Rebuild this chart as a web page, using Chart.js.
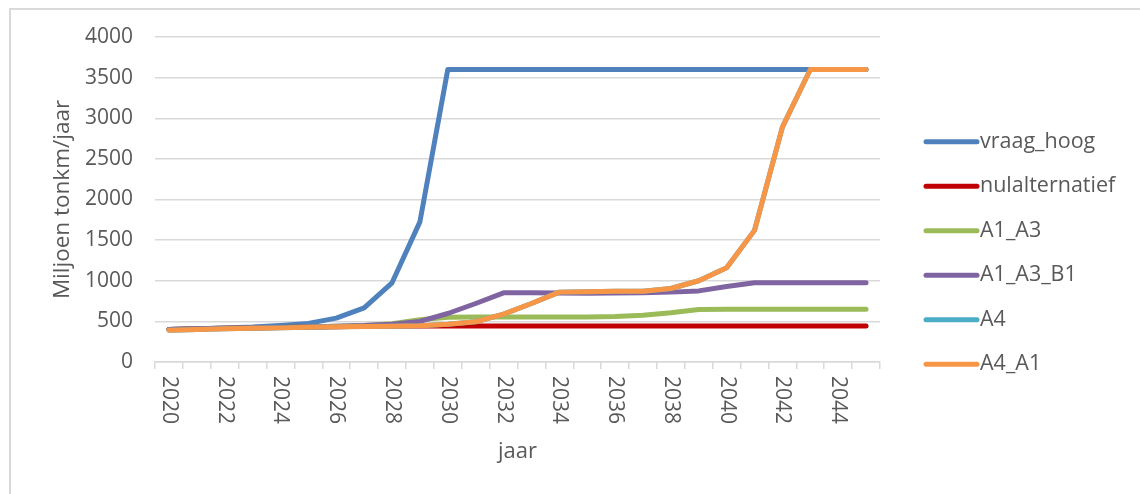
<!DOCTYPE html>
<html>
<head>
<meta charset="utf-8">
<script src="https://cdn.jsdelivr.net/npm/chart.js@4/dist/chart.umd.min.js"></script>
<style>
  html, body { margin: 0; padding: 0; background: #ffffff; }
  #wrap { position: relative; width: 1140px; height: 494px; overflow: hidden; }
  #frame { position: absolute; left: 9px; top: 8px; right: -10px; bottom: -10px;
           border-top: 2px solid #d9d9d9; border-left: 2px solid #d9d9d9; pointer-events: none; }
  canvas { position: absolute; left: 0; top: 0; }
</style>
</head>
<body>
<div id="wrap">
  <canvas id="chart" width="1140" height="494"></canvas>
  <div id="frame"></div>
</div>
<script>
// Years on the category axis
const years = ['2020','2021','2022','2023','2024','2025','2026','2027','2028','2029',
               '2030','2031','2032','2033','2034','2035','2036','2037','2038','2039',
               '2040','2041','2042','2043','2044','2045'];

// Transport volume per scenario (miljoen tonkm per jaar)
const vraagHoog      = [400, 410, 420, 430, 450, 475, 540, 665, 975, 1725, 3600, 3600, 3600, 3600, 3600, 3600, 3600, 3600, 3600, 3600, 3600, 3600, 3600, 3600, 3600, 3600];
const nulalternatief = [400, 408, 415, 420, 425, 430, 435, 440, 442, 442, 442, 442, 442, 442, 442, 442, 442, 442, 442, 442, 442, 442, 442, 442, 442, 442];
const a1A3           = [400, 408, 415, 420, 425, 432, 440, 448, 470, 520, 550, 555, 555, 555, 555, 555, 560, 575, 605, 645, 650, 650, 650, 650, 650, 650];
const a1A3B1         = [400, 408, 415, 420, 425, 432, 440, 448, 465, 500, 597, 720, 851, 851, 848, 845, 848, 852, 860, 875, 930, 975, 975, 975, 975, 975];
const a4             = [392, 400, 408, 415, 420, 428, 433, 438, 440, 445, 465, 495, 590, 720, 860, 865, 870, 870, 905, 1000, 1160, 1620, 2890, 3600, 3600, 3600];
const a4A1           = [392, 400, 408, 415, 420, 428, 433, 438, 440, 445, 465, 495, 590, 720, 860, 865, 870, 870, 905, 1000, 1160, 1620, 2890, 3600, 3600, 3600];

// Value axis ticks
const yTicks = [0, 500, 1000, 1500, 2000, 2500, 3000, 3500, 4000];

const seriesNames  = ['vraag_hoog', 'nulalternatief', 'A1_A3', 'A1_A3_B1', 'A4', 'A4_A1'];
const seriesValues = [vraagHoog, nulalternatief, a1A3, a1A3B1, a4, a4A1];
const seriesColors = ['#4f81bd', '#c00000', '#9bbb59', '#8064a2', '#4bacc6', '#f79646'];

const FONT = '"Open Sans", "Liberation Sans", sans-serif';
const TEXT = '#595959';
const GRID = '#d9d9d9';
const LINE_W = 5;

// Later series are painted on top of earlier ones
const datasets = seriesNames.map((name, i) => ({
  label: name,
  data: seriesValues[i],
  borderColor: seriesColors[i],
  backgroundColor: seriesColors[i],
  borderWidth: LINE_W,
  borderCapStyle: 'round',
  borderJoinStyle: 'round',
  pointRadius: 0,
  pointHoverRadius: 0,
  tension: 0,
  fill: false,
  order: seriesNames.length - i
}));

// Year labels every second year, written top-to-bottom below the axis
const yearLabels = {
  id: 'yearLabels',
  afterDraw(chart) {
    const xs = chart.scales.x;
    const ctx = chart.ctx;
    ctx.save();
    ctx.font = '21px ' + FONT;
    ctx.fillStyle = TEXT;
    ctx.textAlign = 'left';
    ctx.textBaseline = 'middle';
    years.forEach((y, i) => {
      if (i % 2 !== 0) return;
      const x = xs.getPixelForTick(i);
      ctx.save();
      ctx.translate(x, 376);
      ctx.rotate(Math.PI / 2);
      ctx.fillText(y, 0, 0);
      ctx.restore();
    });
    ctx.restore();
  }
};

// Legend column on the right-hand side
const sideLegend = {
  id: 'sideLegend',
  afterDraw(chart) {
    const ctx = chart.ctx;
    ctx.save();
    ctx.font = '21.5px ' + FONT;
    ctx.textAlign = 'left';
    ctx.textBaseline = 'middle';
    chart.data.datasets.forEach((ds, i) => {
      const y = 141.7 + i * 44.5;
      ctx.strokeStyle = ds.borderColor;
      ctx.lineWidth = LINE_W;
      ctx.lineCap = 'round';
      ctx.beginPath();
      ctx.moveTo(926, y);
      ctx.lineTo(977, y);
      ctx.stroke();
      ctx.fillStyle = TEXT;
      ctx.fillText(ds.label, 980, y);
    });
    ctx.restore();
  }
};

function draw() {
  new Chart(document.getElementById('chart'), {
    type: 'line',
    data: { labels: years, datasets },
    plugins: [yearLabels, sideLegend],
    options: {
      responsive: false,
      animation: false,
      events: [],
      layout: { padding: { left: 0, right: 260, top: 37, bottom: 0 } },
      plugins: { legend: { display: false }, tooltip: { enabled: false } },
      scales: {
        x: {
          type: 'category',
          offset: true,
          afterFit(s) { s.height = 132; },
          grid: { display: true, offset: true, drawOnChartArea: false, drawTicks: true,
                  tickLength: 7, color: GRID, lineWidth: 1.5 },
          border: { display: true, color: GRID, width: 1.5 },
          ticks: { display: false, autoSkip: false },
          title: { display: true, text: 'jaar', color: TEXT,
                   font: { family: FONT, size: 22 }, padding: { top: 0, bottom: 29 } }
        },
        y: {
          min: 0,
          max: 4000,
          afterFit(s) { s.width = 155; },
          afterBuildTicks(s) { s.ticks = yTicks.map(v => ({ value: v })); },
          grid: { color: GRID, lineWidth: 1.5, drawTicks: false },
          border: { display: false },
          ticks: { color: TEXT, padding: 22, font: { family: FONT, size: 21 },
                   callback: v => String(v) },
          title: { display: true, text: 'Miljoen tonkm/jaar', color: TEXT,
                   font: { family: FONT, size: 22.5 }, padding: { top: 49, bottom: 0 } }
        }
      }
    }
  });
}

if (document.fonts && document.fonts.load) {
  document.fonts.load('21px "Open Sans"').then(draw, draw);
} else {
  draw();
}
</script>
</body>
</html>
